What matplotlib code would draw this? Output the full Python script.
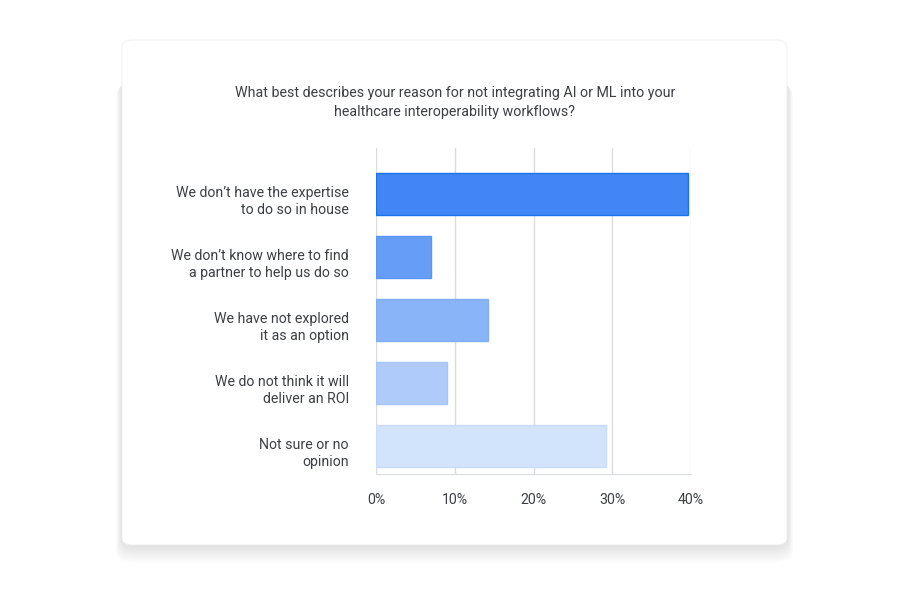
import matplotlib.pyplot as plt
import matplotlib.transforms as mtransforms
from matplotlib.patches import FancyBboxPatch

categories = [
    "We don\u2019t have the expertise\nto do so in house",
    "We don\u2019t know where to find\na partner to help us do so",
    "We have not explored\nit as an option",
    "We do not think it will\ndeliver an ROI",
    "Not sure or no\nopinion",
]
values = [39.6, 7.0, 14.2, 9.0, 29.2]
colors = ["#4285F4", "#669DF6", "#8AB4F8", "#AECBFA", "#D2E3FC"]
edges = ["#1A73E8", "#5B95F5", "#80AEF7", "#A6C6F9", "#C9DDFB"]
ticks = [0, 10, 20, 30, 40]
tick_labels = ["0%", "10%", "20%", "30%", "40%"]
title = ("What best describes your reason for not integrating AI or ML into your\n"
         "healthcare interoperability workflows?")

plt.rcParams['font.family'] = ['Roboto', 'DejaVu Sans']
W, H = 900, 590
fig = plt.figure(figsize=(9, 5.9), dpi=100)
fig.patch.set_facecolor("white")

# soft card shadow, mostly below the card
for i in range(10):
    g = 20 - i * 2
    sh = FancyBboxPatch(((122 - g * 0.3) / W, 1 - (545 + g * 0.9) / H),
                        (665 + g * 0.6) / W, (470 + g * 0.4) / H,
                        boxstyle="round,pad=0,rounding_size=0.02",
                        transform=fig.transFigure, facecolor="black",
                        edgecolor="none", alpha=0.011, zorder=0)
    fig.patches.append(sh)
card = FancyBboxPatch((122 / W, 1 - 545 / H), 665 / W, 505 / H,
                      boxstyle="round,pad=0,rounding_size=0.012",
                      transform=fig.transFigure, facecolor="white",
                      edgecolor="#f0f0f0", linewidth=0.6, zorder=1)
fig.patches.append(card)

ax = fig.add_axes([376 / W, 1 - 474 / H, 315 / W, 326 / H], zorder=2)
ax.set_facecolor("none")
y = list(range(len(categories)))
ax.barh(y, values, height=0.667, color=colors, edgecolor=edges, linewidth=1, zorder=3)
ax.set_xlim(0, 40)
ax.set_ylim(4.44, -0.73)
ax.set_xticks(ticks)
ax.set_xticklabels(tick_labels, fontsize=10.2, color="#3c4043")
ax.set_yticks(y)
ax.set_yticklabels(categories, fontsize=10.2, color="#3c4043", linespacing=1.3)
ax.tick_params(axis="both", length=0)
ax.tick_params(axis="x", pad=14)
ax.tick_params(axis="y", pad=19.5)
shift = mtransforms.ScaledTranslation(0, -4 / 100, fig.dpi_scale_trans)
for lab in ax.get_yticklabels():
    lab.set_transform(lab.get_transform() + shift)
ax.grid(axis="x", color="#dadce0", linewidth=1, zorder=0)
for s in ["top", "right", "left"]:
    ax.spines[s].set_visible(False)
ax.spines["bottom"].set_color("#dadce0")

fig.text(455 / W, 1 - 102.5 / H, title, ha="center", va="center",
         fontsize=10.3, color="#3c4043", linespacing=1.45, zorder=3)

fig.savefig("out.png", dpi=100)
